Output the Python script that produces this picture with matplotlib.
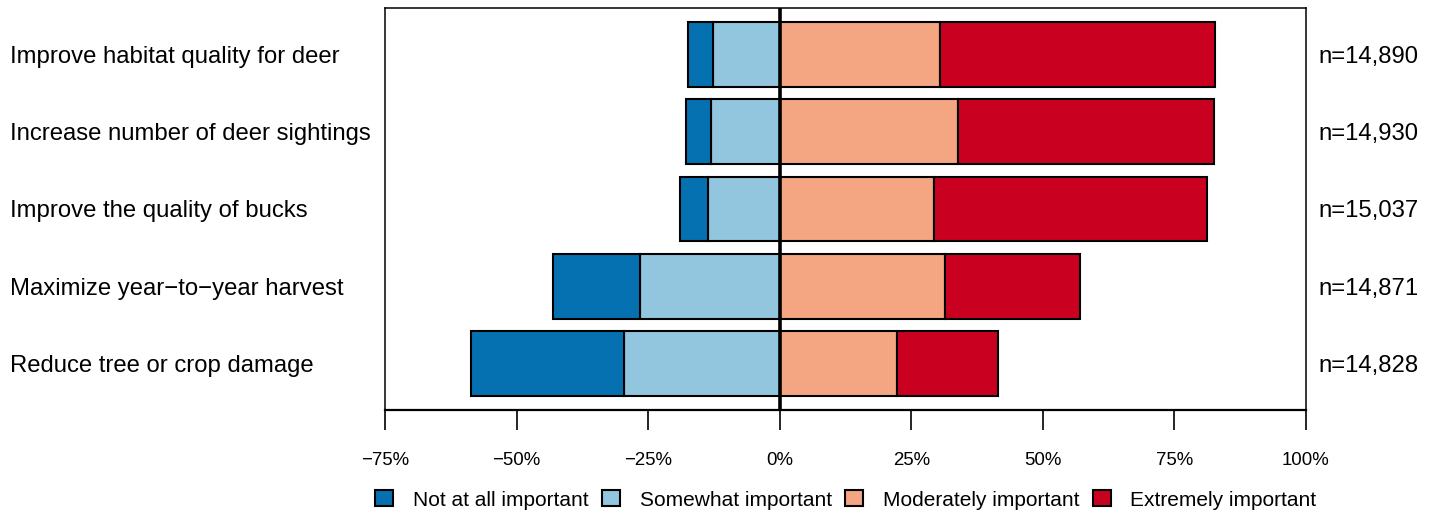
import matplotlib
matplotlib.use("Agg")
import matplotlib.pyplot as plt
from matplotlib.patches import Patch
from matplotlib.transforms import blended_transform_factory, offset_copy
import numpy as np

plt.rcParams['font.family'] = ['Liberation Sans', 'DejaVu Sans']

items = [
    "Improve habitat quality for deer",
    "Increase number of deer sightings",
    "Improve the quality of bucks",
    "Maximize year\u2212to\u2212year harvest",
    "Reduce tree or crop damage",
]
sample_sizes = ["n=14,890", "n=14,930", "n=15,037", "n=14,871", "n=14,828"]

levels = ["Not at all important", "Somewhat important",
          "Moderately important", "Extremely important"]
colors = ["#0571B0", "#92C5DE", "#F4A582", "#CA0020"]

# Percent of respondents per response level
not_at_all = [4.7, 4.8, 5.3, 16.6, 29.1]
somewhat = [12.7, 13.0, 13.6, 26.5, 29.6]
moderately = [30.5, 33.9, 29.3, 31.4, 22.3]
extremely = [52.2, 48.6, 51.9, 25.7, 19.2]

tick_values = [-75, -50, -25, 0, 25, 50, 75, 100]

W, H = 1437, 516
fig = plt.figure(figsize=(W / 100, H / 100), dpi=100)
ax = fig.add_axes([385 / W, (H - 410) / H, (1306 - 385) / W, (410 - 8) / H])

y = np.arange(1, len(items) + 1)
h = 0.84
edge = dict(edgecolor="black", linewidth=1.5)

nm = np.array(not_at_all)
sw = np.array(somewhat)
md = np.array(moderately)
ex = np.array(extremely)

ax.barh(y, -sw, left=0, height=h, color=colors[1], **edge)
ax.barh(y, -nm, left=-sw, height=h, color=colors[0], **edge)
ax.barh(y, md, left=0, height=h, color=colors[2], **edge)
ax.barh(y, ex, left=md, height=h, color=colors[3], **edge)

ax.axvline(0, color="black", linewidth=2.6, zorder=5)

ax.set_xlim(-75, 100)
ax.set_ylim(len(items) + 0.6, 0.4)
ax.set_yticks([])
ax.set_xticks(tick_values)
ax.set_xticklabels([f"{v}%".replace("-", "\u2212") for v in tick_values], fontsize=13.4)
ax.tick_params(axis="x", length=14.5, width=1.2, pad=16, color="black")
for s in ax.spines.values():
    s.set_linewidth(1.1)
ax.spines["bottom"].set_linewidth(1.6)

tr_left = offset_copy(blended_transform_factory(fig.transFigure, ax.transData),
                      fig=fig, x=0, y=-2.5, units="dots")
for yi, lab, n in zip(y, items, sample_sizes):
    fig.text(10 / W, yi, lab, transform=tr_left, ha="left", va="center", fontsize=17.2)
    fig.text(1318 / W, yi, n, transform=tr_left, ha="left", va="center", fontsize=17.2)

handles = [Patch(facecolor=c, edgecolor="black", linewidth=1.5) for c in colors]
fig.legend(handles, levels, loc="center", bbox_to_anchor=(846 / W, (H - 500) / H),
           ncol=4, frameon=False, fontsize=15, handlelength=0.85, handleheight=0.8,
           handletextpad=0.95, columnspacing=0.65, borderaxespad=0)

fig.savefig("out.png", dpi=100)
